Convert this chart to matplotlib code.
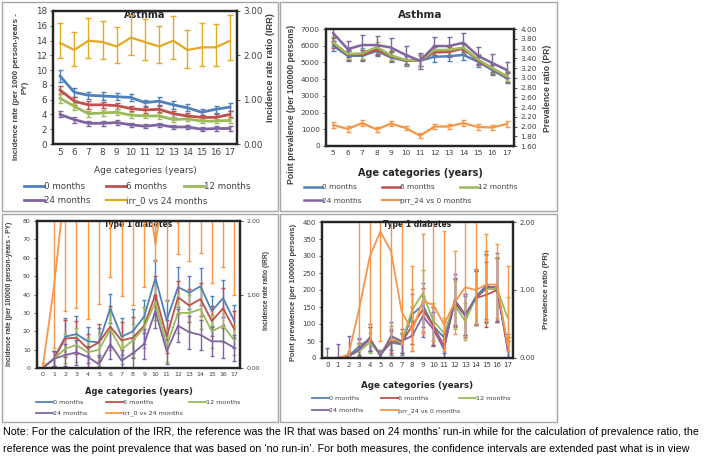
import matplotlib
matplotlib.use("Agg")
import matplotlib.pyplot as plt
from matplotlib.patches import Rectangle

plt.rcParams['font.family'] = ['DejaVu Sans']

W, H = 709, 461

# ---- data ----------------------------------------------------------------
ages_asthma = [5, 6, 7, 8, 9, 10, 11, 12, 13, 14, 15, 16, 17]
ages_t1d = list(range(0, 18))

series_labels = ["0 months", "6 months", "12 months", "24 months"]

# asthma incidence rate (per 1000 PY)
ir_asthma_0 = [9.2, 7.0, 6.6, 6.5, 6.4, 6.3, 5.6, 5.8, 5.3, 4.9, 4.3, 4.7, 5.0]
ir_asthma_6 = [7.3, 5.8, 5.3, 5.3, 5.2, 4.8, 4.6, 4.7, 4.1, 3.8, 3.6, 3.6, 4.0]
ir_asthma_12 = [6.2, 5.1, 4.1, 4.2, 4.3, 3.9, 3.8, 3.8, 3.3, 3.4, 3.1, 3.1, 3.2]
ir_asthma_24 = [4.0, 3.3, 2.8, 2.8, 2.9, 2.6, 2.4, 2.6, 2.3, 2.3, 2.0, 2.1, 2.1]
ir_asthma_err_0 = [0.8, 0.6, 0.5, 0.5, 0.5, 0.5, 0.4, 0.5, 0.5, 0.5, 0.4, 0.5, 0.5]
ir_asthma_err_6 = [0.6, 0.5, 0.5, 0.4, 0.4, 0.4, 0.4, 0.4, 0.4, 0.4, 0.3, 0.4, 0.4]
ir_asthma_err_12 = [0.6, 0.5, 0.4, 0.4, 0.4, 0.4, 0.3, 0.4, 0.3, 0.3, 0.3, 0.3, 0.3]
ir_asthma_err_24 = [0.4, 0.4, 0.3, 0.3, 0.3, 0.3, 0.3, 0.3, 0.3, 0.3, 0.3, 0.3, 0.3]
irr_asthma = [2.28, 2.12, 2.33, 2.30, 2.20, 2.40, 2.30, 2.20, 2.33, 2.12, 2.18, 2.18, 2.33]
irr_asthma_lo = [1.93, 1.75, 1.95, 1.92, 1.82, 2.00, 1.90, 1.82, 1.92, 1.72, 1.75, 1.77, 1.90]
irr_asthma_hi = [2.72, 2.53, 2.85, 2.78, 2.63, 2.92, 2.82, 2.67, 2.88, 2.58, 2.72, 2.70, 2.90]

# asthma point prevalence (per 100000)
pp_asthma_0 = [6000, 5400, 5400, 5690, 5300, 5100, 5100, 5340, 5370, 5450, 5050, 4550, 4050]
pp_asthma_6 = [6150, 5450, 5450, 5770, 5370, 5120, 5100, 5600, 5630, 5830, 5120, 4620, 4120]
pp_asthma_12 = [6200, 5500, 5540, 5920, 5420, 5150, 5100, 5740, 5750, 5890, 5180, 4660, 4170]
pp_asthma_24 = [6750, 5800, 6040, 6040, 5890, 5450, 5100, 5980, 5980, 6180, 5400, 4960, 4550]
pp_asthma_err = [300, 300, 320, 300, 300, 300, 320, 300, 300, 300, 300, 300, 300]
pp_asthma_err_24 = [450, 500, 580, 520, 560, 550, 480, 560, 560, 580, 500, 520, 480]
pr_asthma = [2.03, 1.95, 2.07, 1.94, 2.06, 1.97, 1.81, 2.00, 2.00, 2.07, 1.99, 1.98, 2.05]
pr_asthma_err = [0.06, 0.06, 0.06, 0.05, 0.05, 0.05, 0.05, 0.06, 0.06, 0.06, 0.06, 0.06, 0.07]

# type 1 diabetes incidence rate (per 100000 PY)
ir_t1d_0 = [0, 5, 17, 18.5, 14.5, 14, 32.5, 17, 20, 28, 49, 26, 44, 41, 44.5, 31, 38, 25.5]
ir_t1d_6 = [0, 5, 16, 16.5, 10.5, 14, 22.5, 15, 16.5, 23, 40, 17, 38.5, 34, 37.5, 25.5, 32.5, 21]
ir_t1d_12 = [0, 5, 10.5, 12.5, 8.5, 10, 21, 10, 15, 22, 36, 12, 30, 30, 32, 20, 23, 15]
ir_t1d_24 = [0, 5, 7, 8.5, 6, 2, 13, 4, 8, 13, 31, 9, 23, 19.5, 18, 14.5, 14.5, 11]
ir_t1d_err_0 = [0, 4, 10, 10, 8, 8, 8, 10, 12, 9, 10, 11, 11, 9, 10, 8, 10, 9]
ir_t1d_err_6 = [0, 4, 10, 9, 8, 10, 11, 10, 11, 10, 10, 9, 9, 9, 9, 8, 11, 10]
ir_t1d_err_12 = [0, 4, 8, 9, 8, 9, 11, 8, 9, 11, 10, 9, 11, 10, 11, 9, 9, 8]
ir_t1d_err_24 = [0, 4, 6, 7, 6, 5, 8, 6, 8, 8, 9, 7, 9, 9, 8, 8, 9, 7]
irr_t1d = [0, 1.1, 2.5, 4.0, 3.5, 5.0, 3.0, 4.5, 3.5, 2.8, 1.68, 2.8, 1.96, 2.3, 2.5, 3.0, 2.7, 3.2]
irr_t1d_lo = [0, 0.27, 0.78, 0.82, 0.67, 0.87, 1.24, 0.98, 0.86, 1.10, 1.46, 0.91, 1.55, 1.45, 1.56, 1.15, 1.37, 0.99]
irr_t1d_hi = [0.07, 8, 8, 8, 8, 8, 8, 8, 8, 8, 8, 8, 8, 8, 8, 8, 8, 8]

# type 1 diabetes point prevalence (per 100000)
pp_t1d_0 = [0, 0, 5, 35, 55, 10, 45, 40, 128, 156, 94, 60, 164, 123, 181, 214, 200, 36]
pp_t1d_6 = [0, 0, 5, 25, 55, 10, 50, 45, 95, 142, 94, 36, 161, 128, 176, 186, 200, 31]
pp_t1d_12 = [0, 0, 5, 20, 45, 10, 60, 45, 142, 190, 108, 74, 156, 108, 178, 203, 203, 118]
pp_t1d_24 = [0, 0, 5, 25, 60, 5, 65, 50, 65, 123, 84, 26, 171, 128, 176, 207, 210, 21]
pp_t1d_err_0 = [0, 0, 10, 25, 35, 15, 35, 30, 60, 65, 55, 45, 70, 60, 80, 100, 95, 35]
pp_t1d_err_6 = [0, 0, 10, 20, 35, 15, 35, 30, 55, 65, 55, 35, 70, 60, 80, 95, 95, 30]
pp_t1d_err_12 = [0, 0, 10, 20, 30, 15, 35, 30, 60, 70, 55, 45, 70, 55, 80, 100, 95, 60]
pp_t1d_err_24 = [30, 40, 60, 30, 40, 15, 40, 35, 45, 60, 50, 30, 75, 60, 80, 100, 100, 30]
pr_t1d = [0, 0, 0.05, 0.72, 1.49, 1.86, 1.57, 0.69, 0.40, 0.84, 0.78, 0.49, 0.82, 1.04, 1.00, 1.08, 1.08, 0.18]
pr_t1d_lo = [0, 0, 0, 0.20, 0.27, 0.25, 0.27, 0.20, 0.11, 0.35, 0.25, 0.10, 0.35, 0.30, 0.50, 0.54, 0.59, 0.10]
pr_t1d_hi = [0, 0, 0.10, 5, 5, 5, 5, 5, 1.36, 1.82, 5, 1.87, 1.58, 5, 5, 1.82, 1.68, 1.36]

note_lines = ["Note: For the calculation of the IRR, the reference was the IR that was based on 24 months\u2019 run-in while for the calculation of prevalence ratio, the",
              "reference was the point prevalence that was based on \u2018no run-in\u2019. For both measures, the confidence intervals are extended past what is in view"]

# ---- styles --------------------------------------------------------------
colors = ["#4F81BD", "#C0504D", "#9BBB59", "#8064A2"]
gold = "#E3A921"
orange = "#F79646"
txt = "#404040"
lab_font = "Liberation Sans"

fig = plt.figure(figsize=(W/100, H/100), dpi=100)


def px_box(l, t, r, b):
    return [l/W, 1 - b/H, (r-l)/W, (b-t)/H]


def frame(l, t, r, b):
    fig.patches.append(Rectangle((l/W, 1 - b/H), (r-l)/W, (b-t)/H, transform=fig.transFigure,
                                 fill=False, ec="#a6a6a6", lw=1.0))


def style_axes(ax, ax2, ticksize):
    for a in (ax, ax2):
        for s in a.spines.values():
            s.set_color("#262626")
            s.set_linewidth(1.6)
        a.tick_params(labelsize=ticksize, colors=txt, length=2.5, width=0.6, pad=2)
        a.tick_params(axis='x', length=0, pad=3)


def draw(ax, x, y, err, color, lw, label, cap=1.8):
    c = ax.errorbar(x, y, yerr=err, color=color, lw=lw, elinewidth=1.0, capsize=cap,
                    capthick=1.0, label=label)
    return c[0]


def legends(handles, labels, cols, rows, size, hlen, spacing):
    # Excel style legend laid out row-wise in 3 columns
    for ci in range(3):
        hs = handles[ci::3]
        ls = labels[ci::3]
        fig.legend(hs, ls, loc="upper left", bbox_to_anchor=(cols[ci]/W, 1 - rows/H),
                   frameon=False, fontsize=size, handlelength=hlen, handletextpad=0.0,
                   labelspacing=spacing, borderaxespad=0, borderpad=0, labelcolor=txt)


def title(ax, text, ypx, t, b, size):
    ax.text(0.5, (b - ypx)/(b - t), text, transform=ax.transAxes, ha="center", va="center",
            fontsize=size, fontweight="bold", color="#262626")


# ---- panel frames --------------------------------------------------------
frame(2, 2, 278, 211)
frame(280, 2, 557, 211)
frame(2, 214, 278, 422)
frame(280, 214, 557, 422)

# ---- top left: asthma incidence -----------------------------------------
l, t, r, b = 53, 11, 237, 144
ax = fig.add_axes(px_box(l, t, r, b))
ax2 = ax.twinx()
hs = []
for yv, ev, c, lab in zip([ir_asthma_0, ir_asthma_6, ir_asthma_12, ir_asthma_24],
                          [ir_asthma_err_0, ir_asthma_err_6, ir_asthma_err_12, ir_asthma_err_24],
                          colors, series_labels):
    hs.append(draw(ax, ages_asthma, yv, ev, c, 2.0, lab))
irr_err = [[v - lo for v, lo in zip(irr_asthma, irr_asthma_lo)],
           [hi - v for v, hi in zip(irr_asthma, irr_asthma_hi)]]
hs.append(draw(ax2, ages_asthma, irr_asthma, irr_err, gold, 1.6, "irr_0 vs 24 months", cap=2.2))
ax.set_xlim(4.5, 17.5)
ax.set_ylim(0, 18)
ax.set_yticks(range(0, 19, 2))
ax.set_xticks(ages_asthma)
ax2.set_ylim(0, 3)
ax2.set_yticks([0, 1, 2, 3])
ax2.set_yticklabels(["%.2f" % v for v in [0, 1, 2, 3]])
style_axes(ax, ax2, 6.3)
title(ax, "Asthma", 15, t, b, 7)
ax.set_xlabel("Age categories (years)", fontsize=6.5, color=txt)
ax.xaxis.set_label_coords(0.5, (b - 166)/(b - t))
ax.set_ylabel("Incidence rate (per 1000 person-years -\nPY)", fontsize=5.7, fontweight="bold",
              color=txt, linespacing=1.3, family=lab_font)
ax.yaxis.set_label_coords((29 - l)/(r - l), (b - 87)/(b - t))
ax2.set_ylabel("Incidence rate ratio (IRR)", fontsize=6.6, fontweight="bold", color=txt,
               family=lab_font)
ax2.yaxis.set_label_coords((266 - l)/(r - l), (b - 68)/(b - t))
legends(hs, series_labels + ["irr_0 vs 24 months"], [24, 106, 184], 182, 6.3, 2.3, 0.55)

# ---- top right: asthma prevalence ---------------------------------------
l, t, r, b = 326, 29, 514, 146
ax = fig.add_axes(px_box(l, t, r, b))
ax2 = ax.twinx()
hs = []
for yv, ev, c, lab in zip([pp_asthma_0, pp_asthma_6, pp_asthma_12, pp_asthma_24],
                          [pp_asthma_err, pp_asthma_err, pp_asthma_err, pp_asthma_err_24],
                          colors, series_labels):
    hs.append(draw(ax, ages_asthma, yv, ev, c, 1.8, lab))
hs.append(draw(ax2, ages_asthma, pr_asthma, pr_asthma_err, orange, 1.6, "prr_24 vs 0 months"))
ax.set_xlim(4.5, 17.5)
ax.set_ylim(0, 7000)
ax.set_yticks(range(0, 7001, 1000))
ax.set_xticks(ages_asthma)
ax2.set_ylim(1.6, 4.0)
pr_ticks = [1.6 + 0.2*i for i in range(13)]
ax2.set_yticks(pr_ticks)
ax2.set_yticklabels(["%.2f" % v for v in pr_ticks])
style_axes(ax, ax2, 5.3)
title(ax, "Asthma", 15, t, b, 7.5)
ax.set_xlabel("Age categories (years)", fontsize=7, fontweight="bold", color="#262626")
ax.xaxis.set_label_coords(0.5, (b - 168)/(b - t))
ax.set_ylabel("Point prevalence (per 100000 persons)", fontsize=6.2, fontweight="bold", color=txt,
              family=lab_font)
ax.yaxis.set_label_coords((296 - l)/(r - l), (b - 104)/(b - t))
ax2.set_ylabel("Prevalence ratio (PR)", fontsize=6.2, fontweight="bold", color=txt, family=lab_font)
ax2.yaxis.set_label_coords((543 - l)/(r - l), (b - 88)/(b - t))
legends(hs, series_labels + ["prr_24 vs 0 months"], [304, 382, 460], 184, 5.3, 2.5, 1.0)

# ---- bottom left: type 1 diabetes incidence -----------------------------
l, t, r, b = 37, 221, 240, 368
ax = fig.add_axes(px_box(l, t, r, b))
ax2 = ax.twinx()
hs = []
for yv, ev, c, lab in zip([ir_t1d_0, ir_t1d_6, ir_t1d_12, ir_t1d_24],
                          [ir_t1d_err_0, ir_t1d_err_6, ir_t1d_err_12, ir_t1d_err_24],
                          colors, series_labels):
    hs.append(draw(ax, ages_t1d, yv, ev, c, 1.3, lab, cap=1.5))
irr_err = [[v - lo for v, lo in zip(irr_t1d, irr_t1d_lo)],
           [hi - v for v, hi in zip(irr_t1d, irr_t1d_hi)]]
hs.append(draw(ax2, ages_t1d, irr_t1d, irr_err, orange, 1.3, "irr_0 vs 24 months", cap=1.5))
ax.set_xlim(-0.5, 17.5)
ax.set_ylim(0, 80)
ax.set_yticks(range(0, 81, 10))
ax.set_xticks(ages_t1d)
ax2.set_ylim(0, 2)
ax2.set_yticks([0, 1, 2])
ax2.set_yticklabels(["%.2f" % v for v in [0, 1, 2]])
style_axes(ax, ax2, 4.5)
title(ax, "Type 1 diabetes", 224, t, b, 5.5)
ax.set_xlabel("Age categories (years)", fontsize=6, fontweight="bold", color="#262626")
ax.xaxis.set_label_coords(0.5, (b - 387)/(b - t))
ax.set_ylabel("Incidence rate (per 100000 person-years - PY)", fontsize=4.8, fontweight="bold",
              color=txt, family=lab_font)
ax.yaxis.set_label_coords((13 - l)/(r - l), (b - 294)/(b - t))
ax2.set_ylabel("Incidence rate ratio (IRR)", fontsize=4.8, fontweight="bold", color=txt,
               family=lab_font)
ax2.yaxis.set_label_coords((263 - l)/(r - l), (b - 290)/(b - t))
legends(hs, series_labels + ["irr_0 vs 24 months"], [36, 106, 189], 400, 4.6, 2.6, 0.75)

# ---- bottom right: type 1 diabetes prevalence ---------------------------
l, t, r, b = 322, 222, 513, 358
ax = fig.add_axes(px_box(l, t, r, b))
ax2 = ax.twinx()
hs = []
for yv, ev, c, lab in zip([pp_t1d_0, pp_t1d_6, pp_t1d_12, pp_t1d_24],
                          [pp_t1d_err_0, pp_t1d_err_6, pp_t1d_err_12, pp_t1d_err_24],
                          colors, series_labels):
    hs.append(draw(ax, ages_t1d, yv, ev, c, 1.3, lab, cap=1.5))
pr_err = [[v - lo for v, lo in zip(pr_t1d, pr_t1d_lo)],
          [hi - v for v, hi in zip(pr_t1d, pr_t1d_hi)]]
hs.append(draw(ax2, ages_t1d, pr_t1d, pr_err, orange, 1.3, "prr_24 vs 0 months", cap=1.5))
ax.set_xlim(-0.5, 17.5)
ax.set_ylim(0, 400)
ax.set_yticks(range(0, 401, 50))
ax.set_xticks(ages_t1d)
ax2.set_ylim(0, 2)
ax2.set_yticks([0, 1, 2])
ax2.set_yticklabels(["%.2f" % v for v in [0, 1, 2]])
style_axes(ax, ax2, 5.0)
title(ax, "Type 1 diabetes", 224, t, b, 5.5)
ax.set_xlabel("Age categories (years)", fontsize=6.3, fontweight="bold", color="#262626")
ax.xaxis.set_label_coords(0.5, (b - 381)/(b - t))
ax.set_ylabel("Point prevalence (per 100000 persons)", fontsize=5.4, fontweight="bold", color=txt,
              family=lab_font)
ax.yaxis.set_label_coords((297 - l)/(r - l), (b - 292)/(b - t))
ax2.set_ylabel("Prevalence ratio (PR)", fontsize=5.6, fontweight="bold", color=txt, family=lab_font)
ax2.yaxis.set_label_coords((543 - l)/(r - l), (b - 290)/(b - t))
legends(hs, series_labels + ["prr_24 vs 0 months"], [312, 381, 459], 396, 4.6, 2.6, 1.0)

# ---- note ----------------------------------------------------------------
fig.text(3/W, 1 - 432/H, note_lines[0], fontsize=7.7, va="center", ha="left", color="#000000",
         family="Liberation Sans")
fig.text(3/W, 1 - 449/H, note_lines[1], fontsize=7.7, va="center", ha="left", color="#000000",
         family="Liberation Sans")

fig.savefig("out.png", dpi=100)
